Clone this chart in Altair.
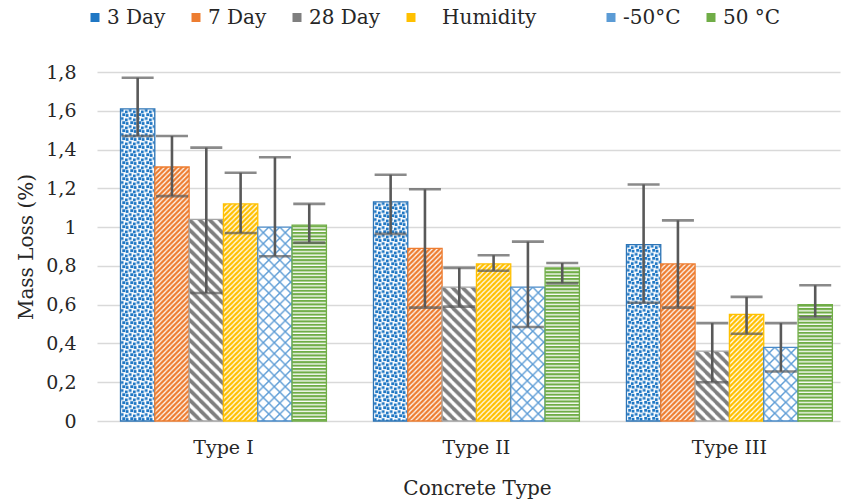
import urllib.parse

import altair as alt
import pandas as pd

# ---- data -----------------------------------------------------------------
concrete_types = ["Type I", "Type II", "Type III"]
exposures = ["3 Day", "7 Day", "28 Day", "Humidity", "-50°C", "50 °C"]

# mean mass loss (%) for each exposure, one list per concrete type
loss_type1 = [1.61, 1.31, 1.04, 1.12, 1.00, 1.01]
loss_type2 = [1.13, 0.89, 0.69, 0.81, 0.69, 0.79]
loss_type3 = [0.91, 0.81, 0.36, 0.55, 0.38, 0.60]

# error bar ends (upper / lower) for each exposure
upper_type1 = [1.77, 1.47, 1.41, 1.28, 1.36, 1.12]
lower_type1 = [1.47, 1.16, 0.66, 0.97, 0.85, 0.92]
upper_type2 = [1.27, 1.195, 0.79, 0.855, 0.925, 0.815]
lower_type2 = [0.965, 0.585, 0.59, 0.775, 0.485, 0.71]
upper_type3 = [1.22, 1.035, 0.505, 0.64, 0.505, 0.70]
lower_type3 = [0.61, 0.585, 0.20, 0.45, 0.255, 0.535]

y_ticks = [0, 0.2, 0.4, 0.6, 0.8, 1.0, 1.2, 1.4, 1.6, 1.8]

rows = []
for ctype, means, highs, lows in zip(
    concrete_types,
    [loss_type1, loss_type2, loss_type3],
    [upper_type1, upper_type2, upper_type3],
    [lower_type1, lower_type2, lower_type3],
):
    for exp, m, hi, lo in zip(exposures, means, highs, lows):
        rows.append({"Type": ctype, "Exposure": exp, "Loss": m, "High": hi, "Low": lo})
df = pd.DataFrame(rows)

# ---- styling --------------------------------------------------------------
FONT = "DejaVu Serif"
TEXT = "#262626"
GRID = "#d9d9d9"
ERR = "#595959"

BLUE_DARK = "#1f77c4"
ORANGE = "#ed7d31"
GRAY = "#7f7f7f"
YELLOW = "#ffc000"
BLUE_LIGHT = "#5b9bd5"
GREEN = "#70ad47"

border_colors = dict(zip(exposures, ["#2e75b6", ORANGE, "#a5a5a5", YELLOW, "#4a8ac8", GREEN]))
legend_colors = [BLUE_DARK, ORANGE, GRAY, YELLOW, BLUE_LIGHT, GREEN]


def pattern_uri(w, h, body):
    """SVG tile pattern that fills whatever box the image mark gets."""
    svg = (
        "<svg xmlns='http://www.w3.org/2000/svg' width='100%' height='100%'>"
        f"<defs><pattern id='p' patternUnits='userSpaceOnUse' width='{w}' height='{h}'>"
        f"{body}</pattern></defs>"
        "<rect width='100%' height='100%' fill='url(#p)'/></svg>"
    )
    return "data:image/svg+xml;charset=utf-8," + urllib.parse.quote(svg)


dots = "<rect width='8' height='8' fill='#fff'/>" + "".join(
    f"<rect x='{x}' y='{y}' width='2.8' height='2.8' fill='{BLUE_DARK}'/>"
    for x, y in [(0.3, 0.3), (4.4, 1.6), (1.8, 4.4), (5.2, 5.2)]
)


def up_diag(color):
    return (
        f"<rect width='5' height='5' fill='{color}'/>"
        "<path d='M-1,1 L1,-1 M0,5 L5,0 M4,6 L6,4' stroke='#fff' stroke-width='1.2'/>"
    )


down_diag = (
    "<rect width='10' height='10' fill='#fff'/>"
    f"<path d='M-1,9 L1,11 M0,0 L10,10 M9,-1 L11,1' stroke='{GRAY}' stroke-width='3.7'/>"
)

diamonds = (
    "<rect width='11' height='11' fill='#fff'/>"
    f"<path d='M0,0 L11,11 M0,11 L11,0' stroke='{BLUE_LIGHT}' stroke-width='1.4'/>"
)

h_lines = (
    "<rect width='4' height='3.4' fill='#fff'/>"
    f"<rect width='4' height='2.1' fill='{GREEN}'/>"
)

patterns = {
    "3 Day": pattern_uri(8, 8, dots),
    "7 Day": pattern_uri(5, 5, up_diag(ORANGE)),
    "28 Day": pattern_uri(10, 10, down_diag),
    "Humidity": pattern_uri(5, 5, up_diag(YELLOW)),
    "-50°C": pattern_uri(11, 11, diamonds),
    "50 °C": pattern_uri(4, 3.4, h_lines),
}

# ---- encodings ------------------------------------------------------------
x_enc = alt.X(
    "Type:N",
    sort=concrete_types,
    scale=alt.Scale(domain=concrete_types, paddingInner=0.186, paddingOuter=0.0615, align=0.755),
    title="Concrete Type",
    axis=alt.Axis(
        labelAngle=0,
        labelFont=FONT,
        labelFontSize=19,
        labelColor=TEXT,
        labelBaseline="middle",
        labelPadding=26,
        ticks=False,
        tickSize=0,
        domain=False,
        grid=False,
        titleFont=FONT,
        titleFontSize=20,
        titleFontWeight="normal",
        titleColor=TEXT,
        titleX=380,
        titleY=67,
        titleBaseline="middle",
    ),
)
xoff_enc = alt.XOffset(
    "Exposure:N",
    sort=exposures,
    scale=alt.Scale(domain=exposures, paddingInner=0, paddingOuter=0),
)

y_axis = alt.Axis(
    values=y_ticks,
    labelExpr="replace(format(datum.value, '.1~f'), '.', ',')",
    labelFont=FONT,
    labelFontSize=19,
    labelColor=TEXT,
    labelPadding=21,
    ticks=False,
    tickSize=0,
    domain=False,
    grid=True,
    gridColor=GRID,
    gridWidth=1.5,
    titleFont=FONT,
    titleFontSize=20,
    titleFontWeight="normal",
    titleColor=TEXT,
    titleAngle=270,
    titleX=-71,
    titleY=174.5,
    titleAlign="center",
    titleBaseline="middle",
)
y_scale = alt.Scale(domain=[0, 1.8], nice=False)


def y_enc(field):
    return alt.Y(field, scale=y_scale, axis=y_axis, title="Mass Loss (%)", stack=None)


base = alt.Chart(df).encode(x=x_enc, xOffset=xoff_enc)

# patterned bar bodies, each with its own coloured outline
bar_layers = []
for exp in exposures:
    one = base.transform_filter(alt.datum.Exposure == exp)
    bar_layers.append(
        one.mark_image(aspect=False).encode(
            y=y_enc("Loss:Q"), y2=alt.datum(0), url=alt.value(patterns[exp])
        )
    )
    bar_layers.append(
        one.mark_bar(fill="transparent", stroke=border_colors[exp], strokeWidth=1.3).encode(
            y=y_enc("Loss:Q")
        )
    )

# error bars
err_rule = base.mark_rule(color=ERR, strokeWidth=2.6).encode(y=y_enc("Low:Q"), y2="High:Q")
cap_hi = base.mark_tick(color=ERR, thickness=2.6, size=32).encode(y=y_enc("High:Q"))
cap_lo = base.mark_tick(color=ERR, thickness=2.6, size=32).encode(y=y_enc("Low:Q"))

# legend labels: extra room around "Humidity";
# zero-width spaces keep the no-break spaces from being trimmed
NB = "\u00a0"
ZW = "\u200b"
legend_label = f"datum.label == 'Humidity' ? '{ZW}{NB * 3}Humidity{NB * 7}{ZW}' : datum.label"

# zero-size squares that carry the series legend
legend_carrier = base.mark_square(size=0, filled=True).encode(
    y=y_enc("Loss:Q"),
    color=alt.Color(
        "Exposure:N",
        sort=exposures,
        scale=alt.Scale(domain=exposures, range=legend_colors),
        legend=alt.Legend(
            title=None,
            orient="none",
            direction="horizontal",
            legendX=-12,
            legendY=-64.5,
            padding=0,
            symbolType="square",
            symbolSize=81,
            symbolStrokeWidth=0,
            symbolOpacity=1,
            labelFont=FONT,
            labelFontSize=20,
            labelColor=TEXT,
            labelOffset=2,
            labelBaseline="middle",
            columnPadding=20,
            labelExpr=legend_label,
        ),
    ),
)

chart = (
    alt.layer(*bar_layers, err_rule, cap_hi, cap_lo, legend_carrier)
    .properties(
        width=743,
        height=349,
        padding={"left": 97, "top": 72, "right": 1, "bottom": 83},
        autosize=alt.AutoSizeParams(type="none"),
        background="white",
    )
    .configure(font=FONT)
    .configure_view(stroke=None)
    .configure_legend(labelFont=FONT, labelFontSize=20, labelColor=TEXT)
)

chart.save("out.html", embed_options={"renderer": "svg", "actions": False})
